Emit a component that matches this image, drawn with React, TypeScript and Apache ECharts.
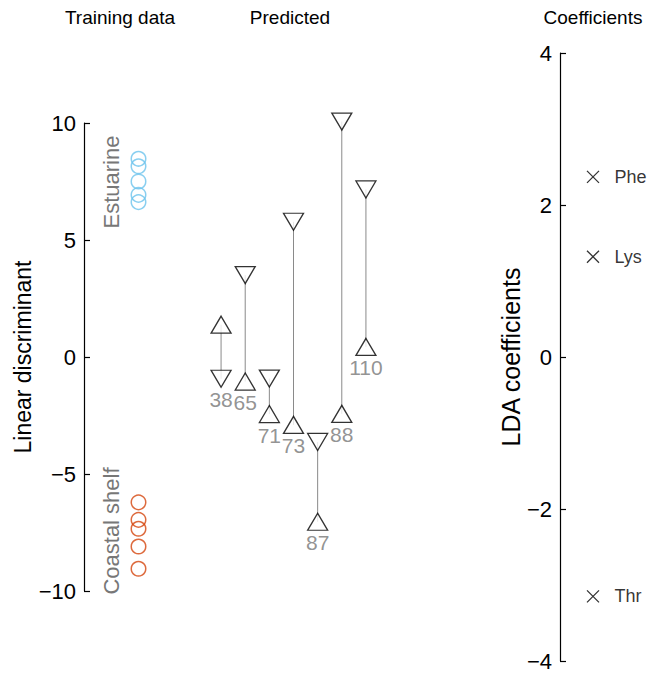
import React, { useEffect, useRef } from "react";
import * as echarts from "echarts";

// ---- data ----
const estuarine = [8.47, 8.15, 7.5, 6.93, 6.62];
const coastalShelf = [-6.21, -6.96, -7.34, -8.1, -9.05];
const sampleIds = ["38", "65", "71", "73", "87", "88", "110"];
const predUp = [1.38, -1.05, -2.44, -2.9, -7.04, -2.43, 0.43];
const predDown = [-0.93, 3.5, -0.92, 5.78, -3.63, 10.06, 7.16];
const coefNames = ["Phe", "Lys", "Thr"];
const coefValues = [2.37, 1.32, -3.15];
const ldRange = { min: -10, max: 10, interval: 5 };
const coefRange = { min: -4, max: 4, interval: 2 };

const FONT = "Liberation Sans, Arial, Helvetica, sans-serif";
const minusFmt = (v: number) => (v < 0 ? "\u2212" + Math.abs(v) : String(v));

export default function App() {
  const ref = useRef<HTMLDivElement>(null);
  useEffect(() => {
    if (!ref.current) return;
    const chart = echarts.init(ref.current, undefined, { renderer: "svg" });

    const mkAxis = (color: string) => ({
      position: "left" as const,
      axisLine: { show: true, lineStyle: { color, width: 1.2 } },
      axisTick: { show: true, inside: true, length: 6, lineStyle: { color, width: 1.2 } },
      splitLine: { show: false },
      axisLabel: { color: "#000", fontSize: 22, fontFamily: FONT, margin: 8, formatter: minusFmt },
      nameLocation: "middle" as const,
    });

    const lower = sampleIds.map((_, i) => Math.min(predUp[i], predDown[i]));
    const titleStyle = { fontSize: 19, fontFamily: FONT, fill: "#000", align: "center", verticalAlign: "middle" };
    const groupStyle = { fontSize: 22, fontFamily: FONT, fill: "#777", align: "center", verticalAlign: "middle" };

    const option: any = {
      animation: false,
      backgroundColor: "#fff",
      textStyle: { fontFamily: FONT },
      grid: [
        { left: 84, top: 123, width: 109, height: 468 },
        { left: 209, top: 123, width: 169, height: 468 },
        { left: 560, top: 53, width: 66, height: 608 },
      ],
      xAxis: [
        { type: "value", gridIndex: 0, min: 0, max: 2, show: false },
        { type: "category", gridIndex: 1, data: sampleIds, show: false },
        { type: "value", gridIndex: 2, min: 0, max: 2, show: false },
      ],
      yAxis: [
        {
          type: "value", gridIndex: 0, ...ldRange, ...mkAxis("#000"),
          name: "Linear discriminant", nameGap: 46,
          nameTextStyle: { color: "#000", fontSize: 23, fontFamily: FONT },
        },
        { type: "value", gridIndex: 1, ...ldRange, show: false },
        {
          type: "value", gridIndex: 2, ...coefRange, ...mkAxis("#000"),
          name: "LDA coefficients", nameGap: 37,
          nameTextStyle: { color: "#000", fontSize: 25, fontFamily: FONT },
        },
      ],
      graphic: [
        { type: "text", x: 120, y: 17, style: { text: "Training data", ...titleStyle } },
        { type: "text", x: 290, y: 17, style: { text: "Predicted", ...titleStyle } },
        { type: "text", x: 593, y: 17, style: { text: "Coefficients", ...titleStyle } },
        { type: "text", x: 111, y: 182, rotation: Math.PI / 2, style: { text: "Estuarine", ...groupStyle } },
        { type: "text", x: 111, y: 531, rotation: Math.PI / 2, style: { text: "Coastal shelf", ...groupStyle } },
      ],
      series: [
        {
          type: "scatter", xAxisIndex: 0, yAxisIndex: 0, symbol: "circle", symbolSize: 14.5,
          data: estuarine.map((v) => [1, v]),
          itemStyle: { color: "transparent", borderColor: "#6CC3EC", borderWidth: 1.5 },
        },
        {
          type: "scatter", xAxisIndex: 0, yAxisIndex: 0, symbol: "circle", symbolSize: 14.5,
          data: coastalShelf.map((v) => [1, v]),
          itemStyle: { color: "transparent", borderColor: "#D5450C", borderWidth: 1.5 },
        },
        {
          type: "custom", xAxisIndex: 1, yAxisIndex: 1, z: 1, clip: false,
          data: sampleIds.map((_, i) => [i, predUp[i], predDown[i]]),
          renderItem: (params: any, api: any) => {
            const a = api.coord([api.value(0), api.value(1)]);
            const b = api.coord([api.value(0), api.value(2)]);
            return {
              type: "line",
              shape: { x1: a[0], y1: a[1], x2: b[0], y2: b[1] },
              style: { stroke: "#8a8a8a", lineWidth: 1 },
            };
          },
        },
        {
          type: "scatter", xAxisIndex: 1, yAxisIndex: 1, z: 3, clip: false, symbol: "triangle", symbolSize: [20, 17],
          data: predUp.map((v, i) => [i, v]),
          itemStyle: { color: "#fff", borderColor: "#000", borderWidth: 1.3 },
        },
        {
          type: "scatter", xAxisIndex: 1, yAxisIndex: 1, z: 3, clip: false, symbol: "triangle", symbolSize: [20, 17], symbolRotate: 180,
          data: predDown.map((v, i) => [i, v]),
          itemStyle: { color: "#fff", borderColor: "#000", borderWidth: 1.3 },
        },
        {
          type: "scatter", xAxisIndex: 1, yAxisIndex: 1, z: 2, clip: false, symbol: "rect", symbolSize: [20, 17],
          data: sampleIds.map((id, i) => ({ name: id, value: [i, lower[i]] })),
          itemStyle: { color: "transparent", borderWidth: 0 },
          label: { show: true, position: "bottom", distance: 2, formatter: "{b}", color: "#777", fontSize: 21, fontFamily: FONT },
        },
        {
          type: "scatter", xAxisIndex: 2, yAxisIndex: 2, clip: false, symbol: "path://M0 0L10 10M10 0L0 10", symbolSize: 12,
          data: coefNames.map((n, i) => ({ name: n, value: [1, coefValues[i]] })),
          itemStyle: { color: "none", borderColor: "#000", borderWidth: 1.3 },
          label: { show: true, position: "right", distance: 13, formatter: "{b}", color: "#000", fontSize: 18, fontFamily: FONT },
        },
      ],
    };
    chart.setOption(option);
    return () => chart.dispose();
  }, []);
  return <div ref={ref} style={{ position: "absolute", left: 0, top: 0, width: 662, height: 673 }} />;
}
